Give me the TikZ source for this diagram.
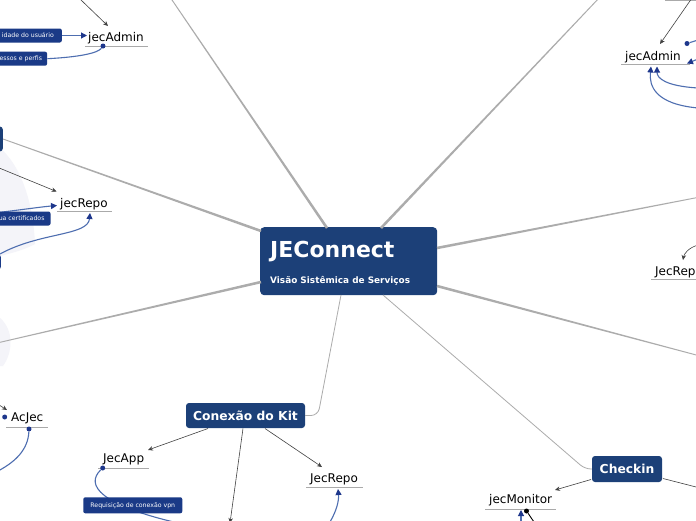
\documentclass[tikz,border=0pt]{standalone}
\usepackage{fontspec}
\setmainfont{DejaVu Sans}
\usetikzlibrary{calc,arrows.meta}
\definecolor{nodeblue}{RGB}{28,64,120}
\definecolor{tagblue}{RGB}{26,58,135}
\definecolor{linkblue}{RGB}{78,110,176}
\definecolor{dotblue}{RGB}{30,55,140}
\definecolor{mainline}{RGB}{172,172,172}
\definecolor{arrowgray}{RGB}{65,65,65}
\definecolor{faint}{RGB}{244,244,249}
\definecolor{ulgray}{RGB}{170,170,170}
\newcommand\mmtaper[3][1.3pt]{%
  \fill[mainline] ($(#2)!#1!90:(#3)$) -- ($(#3)!0.45pt!-90:(#2)$) -- ($(#3)!0.45pt!90:(#2)$) -- ($(#2)!#1!-90:(#3)$) -- cycle;}
\begin{document}
\begin{tikzpicture}[x=1pt,y=-1pt,
  topic/.style={fill=nodeblue, rounded corners=3pt, text=white, font=\fontsize{12.3}{14}\selectfont\bfseries, inner sep=0pt},
  leaf/.style={font=\fontsize{12}{14}\selectfont, inner sep=0pt, anchor=base west, text=black},
  tag/.style={fill=tagblue, rounded corners=2pt, text=white, font=\fontsize{6.2}{7}\selectfont, minimum height=14pt, inner ysep=0pt, inner xsep=6pt},
  uline/.style={draw=ulgray, line width=0.9pt},
  garrow/.style={draw=arrowgray, line width=0.6pt, -{Stealth[length=5pt,width=4.5pt]}},
  gline/.style={draw=arrowgray, line width=0.6pt},
  bline/.style={draw=linkblue, line width=1.1pt},
  barrow/.style={bline, -{Triangle[length=6pt,width=6pt,color=dotblue]}},
  thinmain/.style={draw=mainline, line width=0.8pt},
  dot/.style={circle, fill=dotblue, inner sep=0pt, minimum size=5pt},
  bdot/.style={circle, fill=black, inner sep=0pt, minimum size=5pt},
]
\useasboundingbox (0,0) rectangle (696,520);
\clip (0,0) rectangle (696,520);
\fill[white] (0,0) rectangle (696,520);

% faint watermark pieces
\fill[faint] (0,148) .. controls (20,165) and (33,200) .. (35,244) .. controls (24,250) and (12,253) .. (0,256) -- cycle;
\fill[faint] (0,318) .. controls (14,330) and (13,352) .. (3,366) -- (0,366) -- cycle;

% central node
\node[fill=nodeblue, rounded corners=4pt, minimum width=177pt, minimum height=68pt, inner sep=0pt, anchor=north west] (root) at (260,227) {};
\node[anchor=base west, text=white, font=\fontsize{22}{26}\selectfont\bfseries, inner sep=0pt] (title) at (270,257) {JEConnect};
\node[anchor=base west, text=white, font=\fontsize{8.9}{10}\selectfont\bfseries, inner sep=0pt] (subtitle) at (270,283) {Visão Sistêmica de Serviços};

% topics
\node[topic, minimum width=119pt, minimum height=25pt] (kit) at (245.5,415.5) {Conexão do Kit};
\node[topic, minimum width=70pt, minimum height=26pt] (checkin) at (627,469) {Checkin};
\node[fill=nodeblue, rounded corners=3pt, minimum width=50pt, minimum height=25pt, inner sep=0pt, anchor=east] (lefttopic) at (3,139) {};

% main line coordinates
\coordinate (rA) at (327,228); \coordinate (eA) at (170,-3);
\coordinate (rB) at (381,228); \coordinate (eB) at (600,-3);
\coordinate (rC) at (261,231); \coordinate (eC) at (lefttopic.east);
\coordinate (rD) at (437,248); \coordinate (eD) at (700,197);
\coordinate (rE) at (437,286); \coordinate (eE) at (700,356);
\coordinate (rF) at (261,282); \coordinate (eF) at (-3,343);
\coordinate (rG) at (341,295); \coordinate (gk) at (318,415.5);
\coordinate (rH) at (383,295); \coordinate (hc) at (585,469);
\mmtaper{rA}{eA}
\mmtaper{rB}{eB}
\mmtaper{rC}{eC}
\mmtaper{rD}{eD}
\mmtaper{rE}{eE}
\mmtaper{rF}{eF}
\draw[thinmain, rounded corners=7pt] (rG) -- (gk) -- (kit.east);
\draw[thinmain, rounded corners=6pt] (rH) -- (hc) -- (checkin.west);

% leaves
\node[leaf] (adminTL) at (88,41) {jecAdmin};
\draw[uline] (85,46) -- (148,46);
\node[leaf] (repoL) at (60,207) {jecRepo};
\draw[uline] (57,211.5) -- (112,211.5);
\node[leaf] (acjec) at (11,421.5) {AcJec};
\draw[uline] (6,427.5) -- (48,427.5);
\node[leaf] (jecapp) at (103,462) {JecApp};
\draw[uline] (98,468) -- (149,468);
\node[leaf] (jecrepoB) at (310,482.5) {JecRepo};
\draw[uline] (306,487.5) -- (363,487.5);
\node[leaf] (jecmon) at (489,503.5) {jecMonitor};
\draw[uline] (485,509) -- (556,509);
\node[leaf] (adminTR) at (625,60) {jecAdmin};
\draw[uline] (621,64.5) -- (690,64.5);
\node[leaf] (jecrep) at (655,275) {JecRepo};
\draw[uline] (651,279.5) -- (700,279.5);
\draw[uline] (665,0.5) -- (700,0.5);

% gray arrows
\coordinate (gTLs) at (80,-1); \coordinate (gTLe) at (108,26);
\draw[garrow] (gTLs) -- (gTLe);
\coordinate (gLs) at (-2,167.5); \coordinate (gLe) at (56.5,191.5);
\draw[garrow] (gLs) -- (gLe);
\coordinate (gAs) at (-4,403); \coordinate (gAe) at (7,410);
\draw[garrow] (gAs) -- (gAe);
\coordinate (k1) at (208,428.5); \coordinate (appin) at (148,450);
\coordinate (k2) at (265,428.5); \coordinate (repoBin) at (322,467);
\coordinate (k3) at (243,428.5); \coordinate (kdown) at (230,523);
\draw[garrow] (k1) -- (appin);
\draw[garrow] (k2) -- (repoBin);
\draw[garrow] (k3) -- (kdown);
\coordinate (c1) at (591,479.5); \coordinate (monin) at (555,490);
\coordinate (c2) at (663,478.5); \coordinate (cright) at (700,488);
\draw[garrow] (c1) -- (monin);
\draw[gline] (c2) -- (cright);
\coordinate (gTRs) at (692,-2); \coordinate (gTRe) at (660,44);
\draw[garrow] (gTRs) -- (gTRe);
\coordinate (gRs) at (698,245); \coordinate (gRe) at (683,260);
\draw[garrow] (gRs) .. controls (688,248) and (684,254) .. (gRe);

% tags and blue links, top left
\node[tag, anchor=east, inner xsep=8pt] (tag1) at (62,35.5) {idade do usuário};
\node[tag, anchor=east, inner xsep=5pt] (tag2) at (47.3,58.7) {essos e perfis};
\coordinate (admTLin) at (87,35.5);
\draw[barrow] (tag1.east) -- (admTLin);
\node[dot] (d1) at (103,46) {};
\draw[bline] (tag2.east) .. controls (80,57) and (98,53) .. (d1);

% left jecRepo
\coordinate (b3s) at (-10,213.5); \coordinate (repoLin) at (57,205.5);
\draw[barrow] (b3s) .. controls (20,210) and (40,207) .. (repoLin);
\node[tag, anchor=east, inner xsep=6pt] (tag3) at (50.7,218.5) {ua certificados};
\node[tag, anchor=east, minimum width=60pt] (tag5) at (1,262) {};
\coordinate (b5s) at (0,254); \coordinate (repoLbot) at (90,213);
\draw[barrow] (b5s) .. controls (40,232) and (88,236) .. (repoLbot);

% AcJec
\node[dot] (acdot) at (4.7,417) {};
\node[dot] (acdot2) at (29,429) {};
\coordinate (acend) at (-2,471);
\draw[bline] (acdot2) .. controls (28,450) and (15,462) .. (acend);

% JecApp
\node[dot] (appdot) at (102.7,468) {};
\coordinate (append) at (178,523);
\draw[bline] (appdot) .. controls (85,485) and (100,505) .. (append);
\node[tag, minimum width=99pt, minimum height=16pt] (tag4) at (132.8,505.3) {Requisição de conexão vpn};

% JecRepo bottom
\coordinate (rbs) at (330,522); \coordinate (rbe) at (338,489);
\draw[barrow] (rbs) .. controls (337,510) and (339,500) .. (rbe);

% jecMonitor
\coordinate (ms) at (521,522); \coordinate (me) at (521,510);
\draw[barrow] (ms) -- (me);
\node[bdot] (mdot) at (526.5,511) {};
\coordinate (mend) at (534,522);
\draw[draw=black, line width=0.9pt] (mdot) -- (mend);

% top right jecAdmin
\node[dot] (trdot) at (687,43.5) {};
\coordinate (trdend) at (698,40);
\draw[bline] (trdot) -- (trdend);
\coordinate (tras) at (698,59); \coordinate (trae) at (687,63.5);
\draw[barrow] (tras) -- (trae);
\coordinate (trc1s) at (698,88); \coordinate (trc1e) at (657,66.5);
\draw[barrow] (trc1s) .. controls (665,86) and (657,78) .. (trc1e);
\coordinate (trc2s) at (698,108); \coordinate (trc2e) at (651,66.5);
\draw[barrow] (trc2s) .. controls (655,104) and (649,86) .. (trc2e);
\end{tikzpicture}
\end{document}
